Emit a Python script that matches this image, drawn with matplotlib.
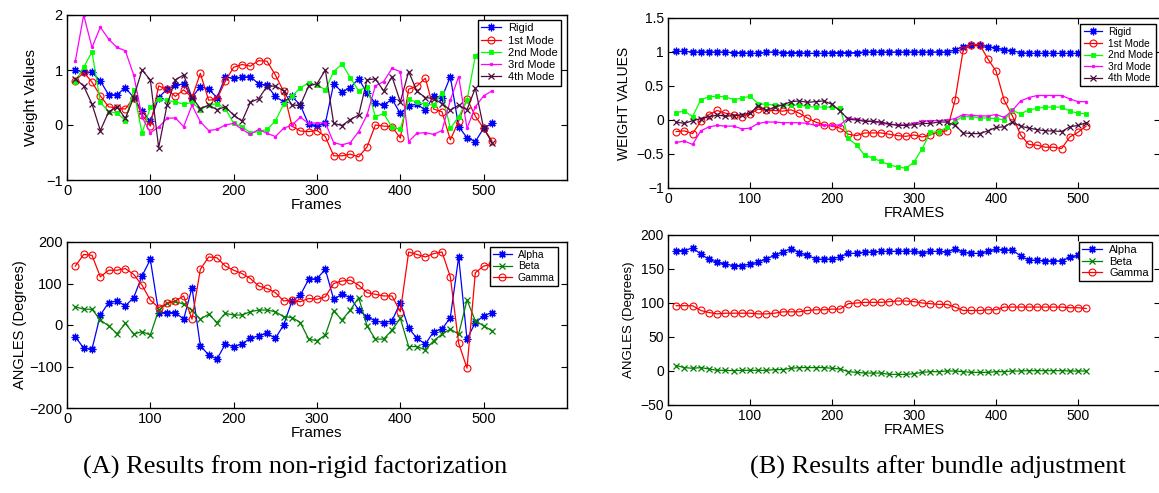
import matplotlib
matplotlib.use("Agg")
import matplotlib.pyplot as plt
from matplotlib.ticker import FuncFormatter

plt.rcParams['font.family'] = ['Liberation Sans', 'DejaVu Sans']

# frame numbers (one sample every 10 frames)
frames = list(range(10, 511, 10))

# (A) weights from non-rigid factorization
rigid_a = [1.0, 0.96, 0.96, 0.8, 0.55, 0.55, 0.68, 0.5, 0.25, 0.07,
           0.5, 0.65, 0.72, 0.75, 0.5, 0.7, 0.65, 0.5, 0.87, 0.85,
           0.87, 0.88, 0.75, 0.72, 0.52, 0.42, 0.52, 0.36, 0.01, -0.02,
           0.03, 0.75, 0.6, 0.68, 0.84, 0.58, 0.4, 0.36, 0.47, 0.21,
           0.35, 0.38, 0.27, 0.53, 0.5, 0.88, -0.03, -0.23, -0.3, -0.06,
           0.03]
mode1_a = [0.8, 0.96, 0.78, 0.53, 0.33, 0.31, 0.29, 0.5, 0.19, -0.02,
           0.71, 0.65, 0.52, 0.64, 0.5, 0.94, 0.45, 0.47, 0.8, 1.05,
           1.1, 1.07, 1.17, 1.16, 0.91, 0.61, -0.02, -0.11, -0.12, -0.1,
           -0.21, -0.56, -0.56, -0.53, -0.58, -0.4, 0.0, -0.02, -0.03, -0.24,
           0.65, 0.71, 0.85, 0.29, 0.24, -0.27, 0.07, 0.48, 0.16, -0.06,
           -0.29]
mode2_a = [0.79, 1.05, 1.33, 0.41, 0.24, 0.22, 0.08, 0.64, -0.15, 0.32,
           0.47, 0.45, 0.42, 0.38, 0.41, 0.28, 0.36, 0.39, 0.3, 0.03,
           -0.03, -0.14, -0.12, -0.08, 0.07, 0.38, 0.52, 0.68, 0.76, 0.73,
           0.64, 0.97, 1.11, 0.86, 0.62, 0.7, 0.15, 0.21, -0.04, -0.08,
           0.47, 0.41, 0.38, 0.36, 0.59, -0.06, 0.15, 0.45, 1.25, 1.4,
           1.3]
mode3_a = [1.16, 2.0, 1.41, 1.78, 1.56, 1.41, 1.35, 0.91, 0.15, -0.14,
           -0.04, 0.12, 0.13, -0.03, 0.36, 0.06, -0.1, -0.08, 0.0, 0.03,
           -0.08, -0.17, -0.08, -0.15, -0.21, -0.06, 0.0, 0.14, 0.03, 0.04,
           0.04, -0.32, -0.36, -0.32, -0.12, 0.18, 0.71, 0.79, 1.03, 0.97,
           -0.3, -0.15, -0.14, -0.17, -0.1, 0.45, 0.88, -0.06, 0.33, 0.53,
           0.62]
mode4_a = [0.84, 0.71, 0.38, -0.1, 0.24, 0.33, 0.12, 0.5, 1.0, 0.82,
           -0.41, 0.36, 0.82, 0.91, 0.5, 0.3, 0.36, 0.28, 0.33, 0.18,
           0.07, 0.41, 0.48, 0.7, 0.71, 0.62, 0.36, 0.36, 0.71, 0.75,
           1.0, 0.03, -0.01, 0.1, 0.18, 0.82, 0.84, 0.62, 0.88, 0.42,
           0.97, 0.61, 0.5, 0.48, 0.39, 0.27, 0.36, 0.28, 0.67, -0.06,
           -0.32]

# (A) angles
alpha_a = [-28, -56, -58, 24, 54, 58, 46, 66, 118, 158,
           30, 30, 30, 14, 90, -50, -72, -82, -46, -52,
           -46, -32, -26, -20, -32, 0, 58, 72, 110, 112,
           134, 62, 74, 66, 36, 20, 10, 6, 10, 54,
           -8, -32, -46, -16, -10, 18, 164, -34, 6, 22,
           30]
beta_a = [44, 38, 38, 12, -2, -21, 4, -22, -16, -24,
          36, 52, 57, 50, 35, 14, 26, 6, 28, 24,
          24, 32, 36, 36, 32, 20, 18, 6, -34, -38,
          -24, 34, 12, 36, 66, -2, -34, -34, -12, 16,
          -52, -52, -60, -38, -22, -10, -22, 60, 10, -2,
          -14]
gamma_a = [142, 170, 168, 116, 132, 132, 136, 122, 96, 60,
           42, 52, 58, 70, 14, 134, 164, 162, 142, 132,
           124, 112, 94, 88, 78, 58, 60, 56, 64, 62,
           68, 100, 106, 108, 96, 78, 74, 70, 70, 32,
           176, 170, 164, 172, 176, 116, -44, -104, 126, 142,
           146]

# (B) weights after bundle adjustment
rigid_b = [1.01, 1.01, 1.0, 1.0, 1.0, 1.0, 1.0, 0.99, 0.99, 0.98,
           0.98, 1.0, 1.0, 0.99, 0.99, 0.99, 0.98, 0.98, 0.98, 0.99,
           0.99, 0.99, 0.99, 1.0, 1.0, 1.0, 1.0, 1.0, 1.0, 1.0,
           1.0, 1.0, 1.0, 1.0, 1.03, 1.08, 1.1, 1.1, 1.08, 1.06,
           1.03, 1.02, 0.99, 0.98, 0.98, 0.98, 0.98, 0.98, 0.98, 0.98,
           0.98]
mode1_b = [-0.17, -0.16, -0.2, -0.02, 0.08, 0.14, 0.1, 0.08, 0.05, 0.09,
           0.16, 0.14, 0.14, 0.13, 0.15, 0.1, 0.03, -0.03, -0.07, -0.09,
           -0.12, -0.21, -0.23, -0.19, -0.19, -0.19, -0.21, -0.23, -0.24, -0.22,
           -0.25, -0.22, -0.17, -0.16, 0.29, 1.03, 1.11, 1.11, 0.9, 0.72,
           0.29, 0.06, -0.22, -0.36, -0.37, -0.4, -0.4, -0.42, -0.25, -0.18,
           -0.09]
mode2_b = [0.11, 0.13, 0.05, 0.3, 0.34, 0.35, 0.34, 0.3, 0.32, 0.35,
           0.24, 0.23, 0.22, 0.22, 0.22, 0.22, 0.2, 0.19, 0.19, 0.19,
           0.17, -0.27, -0.37, -0.52, -0.56, -0.61, -0.66, -0.69, -0.71, -0.62,
           -0.42, -0.18, -0.17, -0.11, -0.01, 0.05, 0.05, 0.03, 0.03, 0.02,
           0.0, 0.14, 0.09, 0.15, 0.17, 0.19, 0.19, 0.19, 0.13, 0.1,
           0.09]
mode3_b = [-0.33, -0.31, -0.36, -0.16, -0.1, -0.08, -0.09, -0.09, -0.13, -0.12,
           -0.05, -0.03, -0.03, -0.04, -0.04, -0.04, -0.05, -0.08, -0.08, -0.08,
           -0.07, 0.03, 0.01, -0.01, -0.02, -0.05, -0.06, -0.07, -0.07, -0.05,
           -0.02, -0.01, -0.01, 0.0, 0.02, 0.08, 0.07, 0.06, 0.06, 0.08,
           0.04, 0.14, 0.28, 0.33, 0.36, 0.36, 0.36, 0.36, 0.31, 0.27,
           0.27]
mode4_b = [-0.03, -0.05, -0.01, 0.02, 0.05, 0.07, 0.06, 0.06, 0.08, 0.1,
           0.21, 0.14, 0.19, 0.22, 0.27, 0.28, 0.26, 0.27, 0.28, 0.23,
           0.13, 0.01, 0.0, -0.02, -0.02, -0.03, -0.06, -0.08, -0.08, -0.07,
           -0.05, -0.05, -0.03, -0.03, -0.08, -0.19, -0.2, -0.2, -0.16, -0.11,
           -0.1, -0.03, -0.09, -0.12, -0.14, -0.16, -0.16, -0.17, -0.1, -0.08,
           -0.04]

# (B) angles
alpha_b = [177, 177, 181, 172, 164, 160, 157, 155, 155, 157,
           160, 165, 170, 175, 180, 174, 170, 165, 164, 165,
           168, 173, 173, 175, 175, 176, 176, 176, 176, 176,
           174, 176, 176, 175, 179, 175, 173, 173, 176, 179,
           178, 178, 169, 163, 163, 162, 162, 162, 167, 170,
           170]
beta_b = [8, 5, 4, 5, 3, 1, 1, 0.5, 1, 1,
          1, 1, 2, 2, 4, 5, 5, 5, 5, 4,
          3, -1, -2, -3, -3, -3, -5, -5, -5, -4,
          -2, -1, -1, 0, 0, -1, -2, -2, -2, -1,
          -1, 0, 0, 0.5, 0.5, 0.5, 0.5, 0.5, 0, 0,
          0]
gamma_b = [96, 96, 96, 89, 86, 84, 85, 85, 85, 85,
           84, 84, 85, 87, 87, 87, 89, 90, 90, 91,
           91, 99, 100, 101, 101, 101, 102, 103, 103, 102,
           100, 99, 98, 98, 94, 89, 89, 89, 90, 90,
           94, 94, 94, 94, 94, 94, 94, 94, 93, 93,
           92]

weight_labels = ["Rigid", "1st Mode", "2nd Mode", "3rd Mode", "4th Mode"]
angle_labels = ["Alpha", "Beta", "Gamma"]

STAR = (8, 2, 0)
weight_styles = [
    dict(color="#0000ff", marker=STAR, ms=5.5, mew=0.9),
    dict(color="#ff0000", marker="o", ms=5, mfc="none", mew=0.8),
    dict(color="#00ff00", marker="s", ms=2.8, mew=0.6),
    dict(color="#ff00ff", marker="o", ms=2.0, mew=0.5),
    dict(color="#4a0e3e", marker="x", ms=5, mew=0.9),
]
angle_styles = [
    dict(color="#0000ff", marker=STAR, ms=5.5, mew=0.9),
    dict(color="#008000", marker="x", ms=4, mew=0.9),
    dict(color="#ff0000", marker="o", ms=5, mfc="none", mew=0.8),
]

W, H = 1159, 493
fig = plt.figure(figsize=(W / 100, H / 100), dpi=100)

# matlab-like tick text: 1.5, 1, 0.5, 0, -0.5
tick_fmt = FuncFormatter(lambda v, pos: ("%g" % v).replace("-", "\u2212"))


def px_axes(left, top, right, bottom):
    return fig.add_axes([left / W, 1 - bottom / H, (right - left) / W, (bottom - top) / H])


def style_axes(ax, ylim, yticks, fs):
    ax.set_xlim(0, 600)
    ax.set_xticks([0, 100, 200, 300, 400, 500])
    ax.set_ylim(*ylim)
    ax.set_yticks(yticks)
    ax.yaxis.set_major_formatter(tick_fmt)
    ax.tick_params(direction="in", top=True, right=True, length=4, width=0.8,
                   labelsize=fs, pad=3)
    for s in ax.spines.values():
        s.set_linewidth(1.0)


def add_legend(ax, right, top, fs, spacing):
    leg = ax.legend(loc="upper right", bbox_to_anchor=(right / W, 1 - top / H),
                    bbox_transform=fig.transFigure, borderaxespad=0,
                    fontsize=fs, frameon=True, fancybox=False, framealpha=1,
                    edgecolor="black", handlelength=1.8, handletextpad=0.6,
                    borderpad=0.3, labelspacing=spacing, numpoints=1)
    leg.get_frame().set_linewidth(1.0)


# --- (A) top: weights
ax1 = px_axes(67, 15, 567, 180)
for vals, lab, st in zip([rigid_a, mode1_a, mode2_a, mode3_a, mode4_a], weight_labels, weight_styles):
    ax1.plot(frames, vals, lw=0.9, label=lab, **st)
style_axes(ax1, (-1, 2), [-1, 0, 1, 2], 10.5)
ax1.set_xlabel("Frames", fontsize=11, labelpad=0)
ax1.set_ylabel("Weight Values", fontsize=11, labelpad=6)
add_legend(ax1, 561, 20, 8, 0.2)

# --- (A) bottom: angles
ax2 = px_axes(67, 242, 567, 408)
for vals, lab, st in zip([alpha_a, beta_a, gamma_a], angle_labels, angle_styles):
    ax2.plot(frames, vals, lw=0.9, label=lab, **st)
style_axes(ax2, (-200, 200), [-200, -100, 0, 100, 200], 10.5)
ax2.set_xlabel("Frames", fontsize=11, labelpad=0)
ax2.set_ylabel("ANGLES (Degrees)", fontsize=10.5, labelpad=2)
add_legend(ax2, 558, 247, 7.5, 0.12)

# --- (B) top: weights
ax3 = px_axes(668, 18, 1160, 188)
for vals, lab, st in zip([rigid_b, mode1_b, mode2_b, mode3_b, mode4_b], weight_labels, weight_styles):
    ax3.plot(frames, vals, lw=0.9, label=lab, **st)
style_axes(ax3, (-1, 1.5), [-1, -0.5, 0, 0.5, 1, 1.5], 10)
ax3.set_xlabel("FRAMES", fontsize=10.5, labelpad=0)
ax3.set_ylabel("WEIGHT VALUES", fontsize=10, labelpad=4)
add_legend(ax3, 1156, 24, 7.3, 0.15)

# --- (B) bottom: angles
ax4 = px_axes(668, 235, 1160, 405)
for vals, lab, st in zip([alpha_b, beta_b, gamma_b], angle_labels, angle_styles):
    ax4.plot(frames, vals, lw=0.9, label=lab, **st)
style_axes(ax4, (-50, 200), [-50, 0, 50, 100, 150, 200], 10)
ax4.set_xlabel("FRAMES", fontsize=10.5, labelpad=0)
ax4.set_ylabel("ANGLES (Degrees)", fontsize=9.5, labelpad=4)
add_legend(ax4, 1152, 242, 8, 0.12)

# captions
fig.text(295 / W, 19 / H, "(A) Results from non-rigid factorization",
         family=["Liberation Serif", "DejaVu Serif"], fontsize=19, ha="center", va="baseline")
fig.text(938 / W, 19 / H, "(B) Results after bundle adjustment",
         family=["Liberation Serif", "DejaVu Serif"], fontsize=19, ha="center", va="baseline")

fig.savefig("out.png", dpi=100)
